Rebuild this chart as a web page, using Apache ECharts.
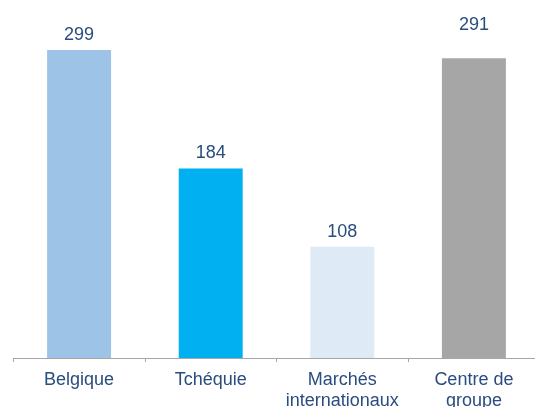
<!DOCTYPE html>
<html>
<head>
<meta charset="utf-8">
<script src="https://cdn.jsdelivr.net/npm/echarts@6/dist/echarts.min.js"></script>
<style>html,body{margin:0;padding:0;background:#fff;}#c{width:535px;height:407px;}</style>
</head>
<body>
<div id="c"></div>
<script>
const categories = ['Belgique', 'Tchéquie', 'Marchés\ninternationaux', 'Centre de\ngroupe'];
const values = [299, 184, 108, 291];
const colors = ['#9DC3E6', '#00B0F0', '#DEEBF7', '#A6A6A6'];
const labelDistances = [6, 6, 6, 24];

const textColor = '#2A4C7F';
const chart = echarts.init(document.getElementById('c'));
chart.setOption({
  animation: false,
  grid: { left: 13.3, top: 49, width: 526.4, height: 309, containLabel: false, outerBoundsMode: 'none' },
  xAxis: {
    type: 'category',
    data: categories,
    axisLine: { show: true, lineStyle: { color: '#A6A6A6', width: 1 } },
    axisTick: { show: true, length: 4, lineStyle: { color: '#A6A6A6' } },
    axisLabel: {
      color: textColor, fontSize: 18, lineHeight: 21, margin: 12,
      fontFamily: 'Liberation Sans, Arial, sans-serif', interval: 0
    }
  },
  yAxis: { type: 'value', min: 0, max: 300, show: false, splitLine: { show: false } },
  series: [{
    type: 'bar',
    barCategoryGap: '51.4%',
    data: values.map((v, i) => ({
      value: v,
      itemStyle: { color: colors[i] },
      label: { distance: labelDistances[i] }
    })),
    label: {
      show: true, position: 'top', color: textColor, fontSize: 18,
      fontFamily: 'Liberation Sans, Arial, sans-serif'
    }
  }]
});
</script>
</body>
</html>
